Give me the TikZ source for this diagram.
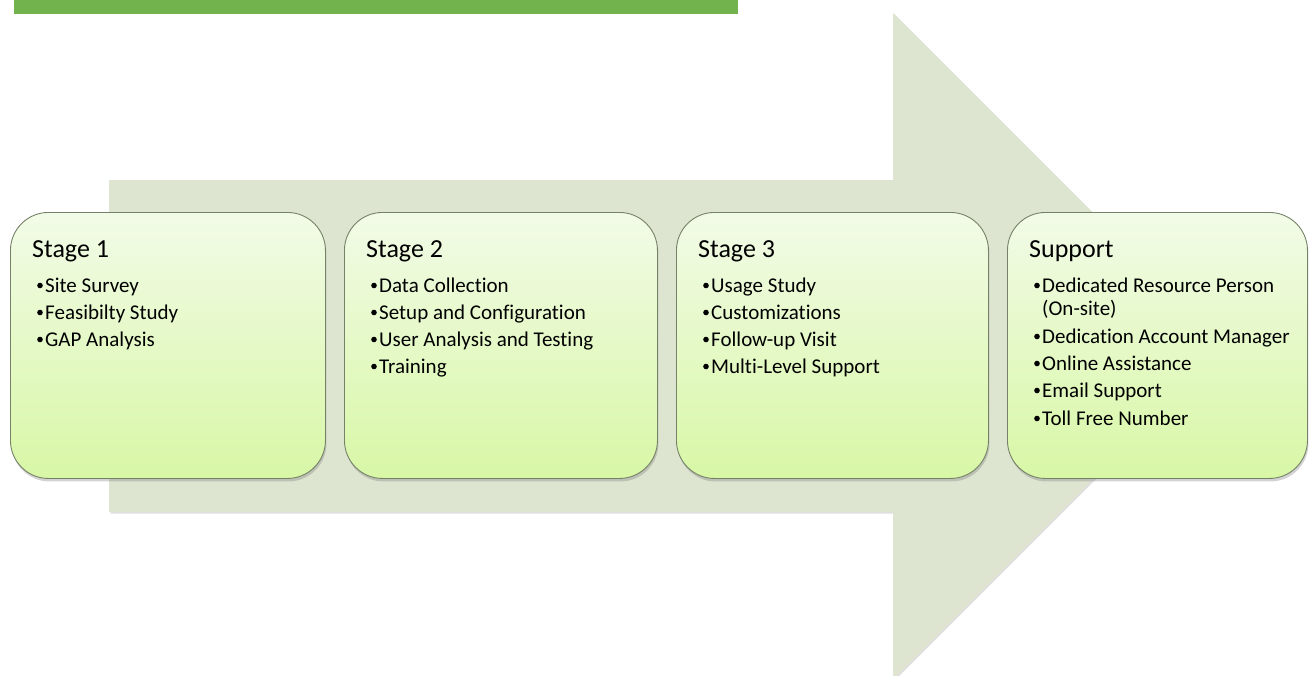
\documentclass[tikz,border=0pt]{standalone}
\usepackage{fontspec}
\setmainfont{Carlito}[Ligatures={NoCommon}]
\usetikzlibrary{shadows,calc}
\definecolor{barGreen}{RGB}{114,179,78}
\definecolor{arrowFill}{RGB}{221,229,208}
\definecolor{boxTop}{RGB}{242,251,231}
\definecolor{boxBot}{RGB}{216,247,166}
\definecolor{boxLine}{RGB}{118,130,104}
\tikzset{
  bigarrow/.style={fill=arrowFill, draw=none, drop shadow={shadow xshift=1.5pt, shadow yshift=-1.5pt, opacity=0.25}},
  stagebox/.style={draw=boxLine, line width=0.9pt, rounded corners=38pt, top color=boxTop, bottom color=boxBot, anchor=north west, inner sep=0pt,
    drop shadow={shadow xshift=1pt, shadow yshift=-3pt, opacity=0.35}},
  titletxt/.style={anchor=base west, inner sep=0pt, font=\fontsize{26}{30}\selectfont},
  itemtxt/.style={anchor=base west, inner sep=0pt, font=\fontsize{21}{25}\selectfont},
  dotmark/.style={fill=black, draw=none, circle, inner sep=0pt, minimum size=5.6pt}
}
\begin{document}
\begin{tikzpicture}[x=1pt,y=-1pt]
\useasboundingbox (0,0) rectangle (1311,675);
% top green bar
\fill[barGreen] (14,0) rectangle (738,14);
% big arrow
\path[bigarrow] (109,180) -- (893,180) -- (893,13) -- (1226,346) -- (893,679) -- (893,512) -- (109,512) -- cycle;
% boxes
\node[stagebox, minimum width=315pt, minimum height=266pt] (s1) at (10,212) {};
\node[stagebox, minimum width=313pt, minimum height=266pt] (s2) at (344,212) {};
\node[stagebox, minimum width=312pt, minimum height=266pt] (s3) at (676,212) {};
\node[stagebox, minimum width=300pt, minimum height=266pt] (s4) at (1007,212) {};
% Stage 1
\node[titletxt] (t1) at ($(s1.north west)+(22,45)$) {Stage 1};
\node[itemtxt] (a1) at ($(s1.north west)+(35,80)$) {Site Survey};
\node[itemtxt] (a2) at ($(s1.north west)+(35,107)$) {Feasibilty Study};
\node[itemtxt] (a3) at ($(s1.north west)+(35,134)$) {GAP Analysis};
\foreach \n in {a1,a2,a3} \node[dotmark] at ($(\n.base west)+(-5,-6.5)$) {};
% Stage 2
\node[titletxt] (t2) at ($(s2.north west)+(22,45)$) {Stage 2};
\node[itemtxt] (b1) at ($(s2.north west)+(35,80)$) {Data Collection};
\node[itemtxt] (b2) at ($(s2.north west)+(35,107)$) {Setup and Configuration};
\node[itemtxt] (b3) at ($(s2.north west)+(35,134)$) {User Analysis and Testing};
\node[itemtxt] (b4) at ($(s2.north west)+(35,161)$) {Training};
\foreach \n in {b1,b2,b3,b4} \node[dotmark] at ($(\n.base west)+(-5,-6.5)$) {};
% Stage 3
\node[titletxt] (t3) at ($(s3.north west)+(22,45)$) {Stage 3};
\node[itemtxt] (c1) at ($(s3.north west)+(35,80)$) {Usage Study};
\node[itemtxt] (c2) at ($(s3.north west)+(35,107)$) {Customizations};
\node[itemtxt] (c3) at ($(s3.north west)+(35,134)$) {Follow-up Visit};
\node[itemtxt] (c4) at ($(s3.north west)+(35,161)$) {Multi-Level Support};
\foreach \n in {c1,c2,c3,c4} \node[dotmark] at ($(\n.base west)+(-5,-6.5)$) {};
% Support
\node[titletxt] (t4) at ($(s4.north west)+(22,45)$) {Support};
\node[itemtxt] (d1) at ($(s4.north west)+(35,80)$) {Dedicated Resource Person};
\node[itemtxt] (d1b) at ($(s4.north west)+(35,103)$) {(On-site)};
\node[itemtxt] (d2) at ($(s4.north west)+(35,131)$) {Dedication Account Manager};
\node[itemtxt] (d3) at ($(s4.north west)+(35,158)$) {Online Assistance};
\node[itemtxt] (d4) at ($(s4.north west)+(35,185)$) {Email Support};
\node[itemtxt] (d5) at ($(s4.north west)+(35,213)$) {Toll Free Number};
\foreach \n in {d1,d2,d3,d4,d5} \node[dotmark] at ($(\n.base west)+(-5,-6.5)$) {};
\end{tikzpicture}
\end{document}
